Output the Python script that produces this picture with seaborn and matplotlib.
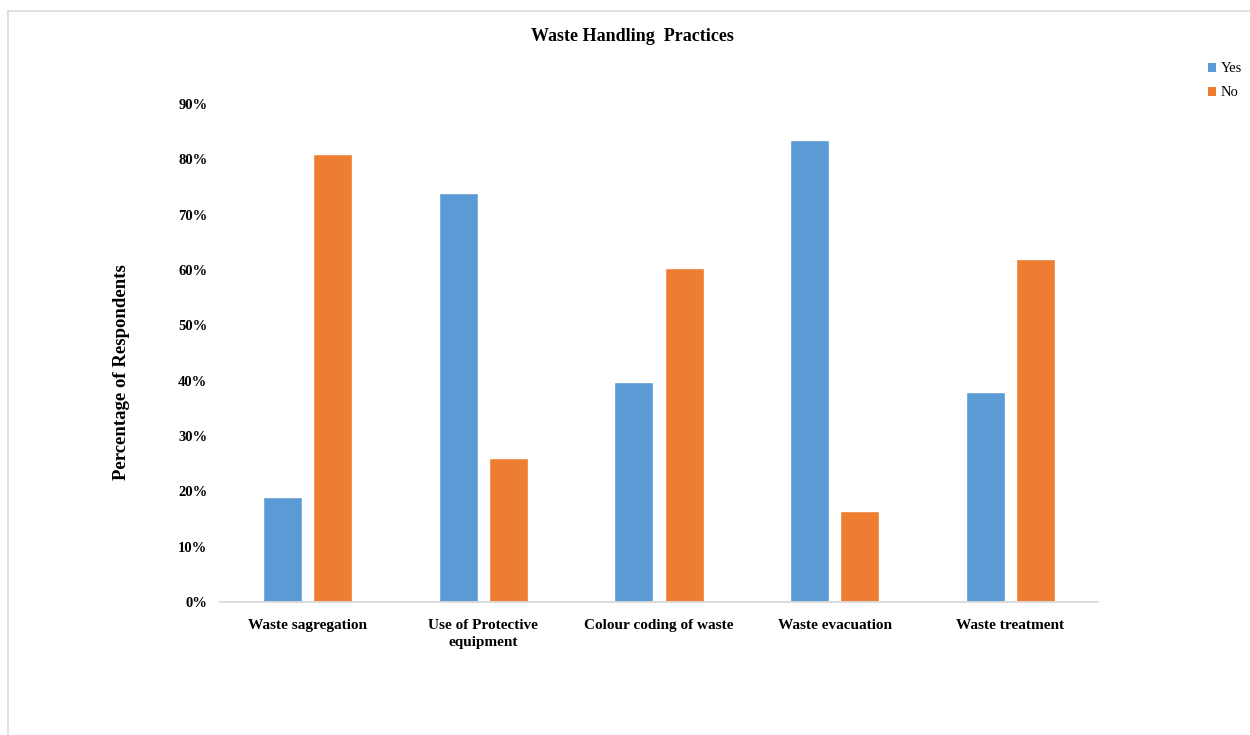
import matplotlib
matplotlib.use("Agg")
import matplotlib.pyplot as plt
from matplotlib.lines import Line2D
from matplotlib.patches import Patch
import matplotlib.ticker as mticker
import pandas as pd
import seaborn as sns

categories = ["Waste sagregation", "Use of Protective\nequipment", "Colour coding of waste",
              "Waste evacuation", "Waste treatment"]
yes_values = [0.19, 0.74, 0.397, 0.835, 0.38]
no_values = [0.81, 0.26, 0.603, 0.165, 0.62]
series_names = ["Yes", "No"]
palette = {"Yes": "#5B9BD5", "No": "#ED7D31"}

df = pd.DataFrame({
    "category": categories * 2,
    "response": [series_names[0]] * len(categories) + [series_names[1]] * len(categories),
    "value": yes_values + no_values,
})

sns.set_theme(style="white")
plt.rcParams["font.family"] = ["Liberation Serif", "DejaVu Serif"]
plt.rcParams["text.color"] = "black"
plt.rcParams["axes.labelcolor"] = "black"
plt.rcParams["xtick.color"] = "black"
plt.rcParams["ytick.color"] = "black"

fig = plt.figure(figsize=(12.5, 7.35), dpi=100)
ax = fig.add_axes([0.176, 0.181, 0.7024, 0.6775])

sns.barplot(data=df, x="category", y="value", hue="response", order=categories,
            hue_order=series_names, palette=palette, width=0.57, gap=0.22,
            errorbar=None, legend=False, ax=ax, saturation=1)

ax.set_xlim(-0.5, len(categories) - 0.5)
ax.set_ylim(0, 0.9)
ax.yaxis.set_major_locator(mticker.MultipleLocator(0.1))
ax.yaxis.set_major_formatter(mticker.PercentFormatter(xmax=1, decimals=0))
ax.tick_params(axis="both", length=0)
ax.tick_params(axis="y", pad=9)
ax.tick_params(axis="x", pad=12)
for lab in ax.get_yticklabels():
    lab.set_fontweight("bold")
    lab.set_fontsize(10.5)
for lab in ax.get_xticklabels():
    lab.set_fontweight("bold")
    lab.set_fontsize(11)
    lab.set_linespacing(1.45)

for side in ["top", "right", "left"]:
    ax.spines[side].set_visible(False)
ax.spines["bottom"].set_color("#d9d9d9")
ax.spines["bottom"].set_linewidth(1.3)

ax.set_xlabel("")
ax.set_ylabel("Percentage of Respondents", fontsize=13.5, fontweight="bold", labelpad=0)
ax.yaxis.set_label_coords(-0.103, 0.462)

fig.text(0.506, 0.951, "Waste Handling  Practices", ha="center", va="center",
         fontsize=13, fontweight="bold")

handles = [Patch(facecolor=palette[s], edgecolor="none", label=s) for s in series_names]
fig.legend(handles=handles, loc="upper left", bbox_to_anchor=(0.966, 0.915),
           frameon=False, fontsize=10.5, handlelength=0.6, handleheight=0.6,
           handletextpad=0.3, labelspacing=0.75, borderaxespad=0, borderpad=0)

# light outer frame along the top and left edges
fig.add_artist(Line2D([7.5 / 1250, 7.5 / 1250], [0, 1 - 10.5 / 735],
                      transform=fig.transFigure, color="#dcdcdc", lw=1.2))
fig.add_artist(Line2D([7.5 / 1250, 1], [1 - 10.5 / 735, 1 - 10.5 / 735],
                      transform=fig.transFigure, color="#dcdcdc", lw=1.2))

fig.savefig("out.png", dpi=100)
